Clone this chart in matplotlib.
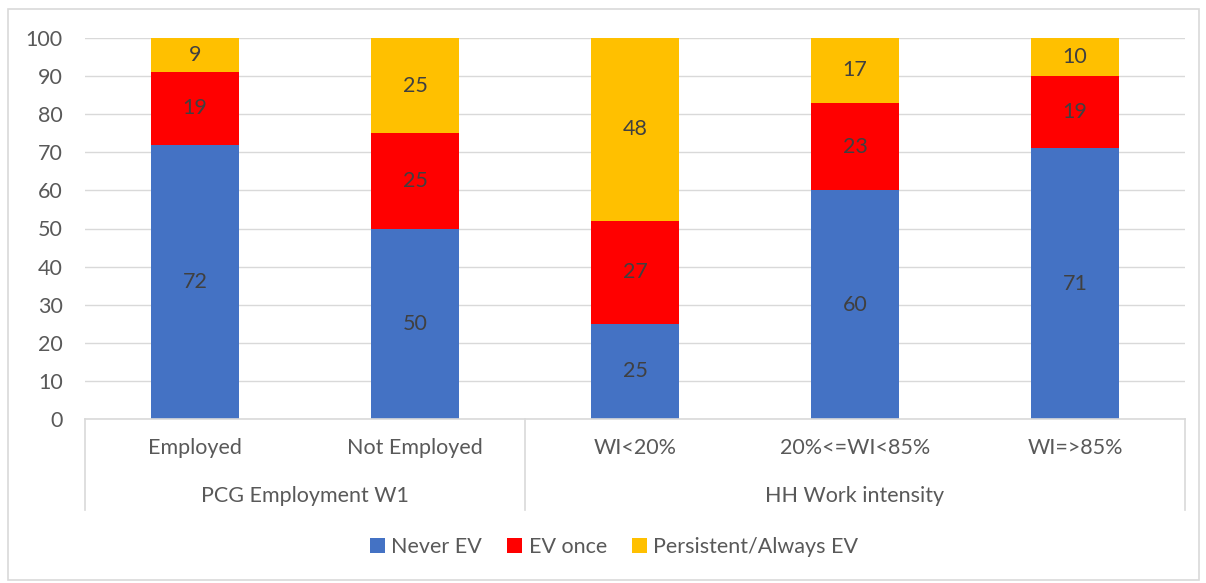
#!/usr/bin/env python3
"""Stacked bar chart: EV experience by employment and work intensity."""

import matplotlib.pyplot as plt
from matplotlib.patches import Rectangle
from matplotlib.transforms import blended_transform_factory

categories = ["Employed", "Not Employed", "WI<20%", "20%<=WI<85%", "WI=>85%"]
groups = ["PCG Employment W1", "HH Work intensity"]
group_sizes = [2, 3]

never_ev = [72, 50, 25, 60, 71]
ev_once = [19, 25, 27, 23, 19]
persistent_ev = [9, 25, 48, 17, 10]

series = [
    ("Never EV", never_ev, "#4472C4"),
    ("EV once", ev_once, "#FF0000"),
    ("Persistent/Always EV", persistent_ev, "#FFC000"),
]

TEXT = "#595959"
GRID = "#D9D9D9"
FS = 15.5

plt.rcParams["font.family"] = ["Lato", "DejaVu Sans"]

fig = plt.figure(figsize=(12.06, 5.83), dpi=100)
fig.patches.append(Rectangle((7.5 / 1206, 3 / 583), 1191 / 1206, 571 / 583,
                             transform=fig.transFigure, fill=False,
                             edgecolor=GRID, linewidth=1.2))
ax = fig.add_axes([85 / 1206, (583 - 419) / 583, 1100 / 1206, 381 / 583])

x = range(len(categories))
bottom = [0] * len(categories)
for name, vals, color in series:
    bars = ax.bar(x, vals, width=0.4, bottom=bottom, color=color,
                  label=name, zorder=3)
    ax.bar_label(bars, labels=[str(v) for v in vals], label_type="center",
                 color="#404040", fontsize=FS)
    bottom = [b + v for b, v in zip(bottom, vals)]

ax.set_xlim(-0.5, len(categories) - 0.5)
ax.set_ylim(0, 100)
ax.set_yticks(range(0, 101, 10))
ax.tick_params(axis="y", length=0, pad=16, labelsize=FS, labelcolor=TEXT)
ax.set_xticks([])
ax.grid(axis="y", color=GRID, linewidth=1, zorder=0)
for s in ax.spines.values():
    s.set_visible(False)

# two-level category axis
tr = blended_transform_factory(ax.transData, ax.transAxes)
ax.plot([-0.5, len(categories) - 0.5], [0, 0], transform=tr, color=GRID,
        linewidth=1.2, clip_on=False, zorder=4)
lo = -(510 - 419) / 381
edges = [-0.5]
for n in group_sizes:
    edges.append(edges[-1] + n)
for e in edges:
    ax.plot([e, e], [0, lo], transform=tr, color=GRID, linewidth=1.2,
            clip_on=False)
for i, c in enumerate(categories):
    ax.text(i, -(448 - 419) / 381, c, transform=tr, ha="center",
            va="center", fontsize=FS, color=TEXT)
for g, a, b in zip(groups, edges[:-1], edges[1:]):
    ax.text((a + b) / 2, -(496 - 419) / 381, g, transform=tr, ha="center",
            va="center", fontsize=FS, color=TEXT)

fig.legend(loc="center", bbox_to_anchor=(614 / 1206, (583 - 547) / 583),
           ncol=3, frameon=False, fontsize=FS, labelcolor=TEXT,
           handlelength=0.7, handleheight=0.7, handletextpad=0.3,
           columnspacing=1.15)

fig.savefig("out.png", dpi=100)
